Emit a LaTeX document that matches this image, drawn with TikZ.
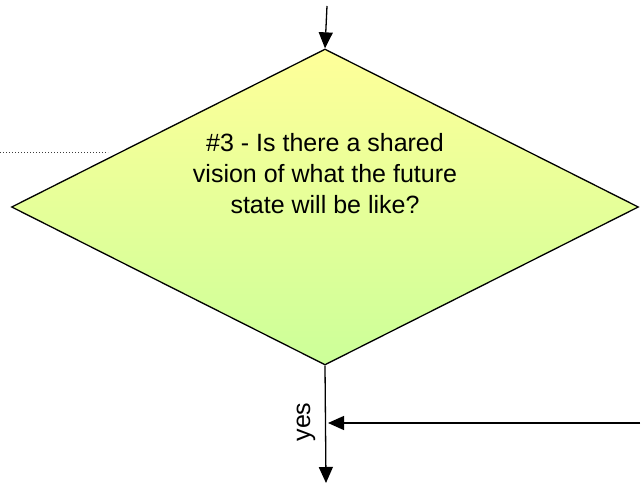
\documentclass[tikz,border=0pt]{standalone}
\usepackage{fontspec}
\setmainfont{Liberation Sans}
\usetikzlibrary{shapes.geometric,arrows.meta}
\definecolor{topyel}{RGB}{255,255,153}
\definecolor{botgrn}{RGB}{204,255,153}
\definecolor{dotgray}{RGB}{60,60,60}
\tikzset{
  decision/.style={diamond, draw=black, line width=1.3pt, inner sep=0pt,
    minimum width=627pt, minimum height=316pt, top color=topyel, bottom color=botgrn},
  flow/.style={line width=1.3pt, -{Triangle[length=16pt,width=14pt]}},
  lbl/.style={font=\fontsize{25}{31}\selectfont, align=center, text=black},
  dotline/.style={draw=dotgray, line width=1pt, dotted}
}
\begin{document}
\begin{tikzpicture}[x=1pt,y=-1pt]
\useasboundingbox (0,0) rectangle (641,484);
\node[decision] (d) at (325,207) {};
\node[lbl] (q) at (325,174) {\#3 - Is there a shared\\vision of what the future\\state will be like?};
\coordinate (in) at (327,6);
\coordinate (out) at (326,483);
\coordinate (j) at (328,423);
\coordinate (r) at (640,423);
\coordinate (dl) at (0,153);
\coordinate (dr) at (108,153);
\draw[flow] (in) -- (d.north);
\draw[flow] (d.south) -- (out);
\draw[flow] (r) -- (j);
\draw[dotline] (dl) -- (dr);
\node[lbl, rotate=90] (yes) at (306,422) {yes};
\end{tikzpicture}
\end{document}
